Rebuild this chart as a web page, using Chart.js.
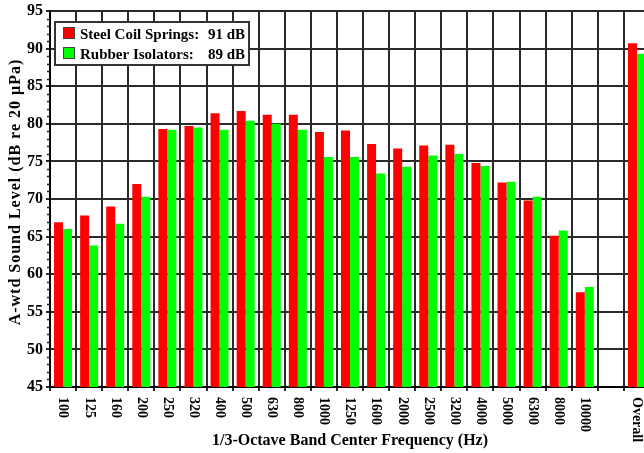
<!DOCTYPE html>
<html>
<head>
<meta charset="utf-8">
<script src="https://cdn.jsdelivr.net/npm/chart.js@4.4.1/dist/chart.umd.min.js"></script>
<style>
  html, body { margin: 0; padding: 0; background: #fff; overflow: hidden; }
  #wrap { width: 650px; height: 453px; }
</style>
</head>
<body>
<div id="wrap"><canvas id="noise" width="650" height="453"></canvas></div>
<script>
// 1/3 octave bands (blank slot before the overall level)
const bands = ['100', '125', '160', '200', '250', '320', '400', '500', '630', '800', '1000',
  '1250', '1600', '2000', '2500', '3200', '4000', '5000', '6300', '8000', '10000', '', 'Overall'];
const steelCoil = [66.9, 67.8, 69.0, 72.0, 79.3, 79.7, 81.4, 81.7, 81.2, 81.2, 78.9,
  79.1, 77.3, 76.7, 77.1, 77.2, 74.8, 72.2, 69.8, 65.1, 57.6, null, 90.7];
const rubber = [66.0, 63.8, 66.7, 70.3, 79.2, 79.5, 79.2, 80.4, 80.0, 79.2, 75.6,
  75.6, 73.4, 74.3, 75.8, 76.0, 74.4, 72.3, 70.3, 65.8, 58.3, null, 89.3];
const seriesNames = ['Steel Coil Springs:', 'Rubber Isolators:'];
const seriesTotals = ['91 dB', '89 dB'];
const seriesColors = ['#ff0000', '#00ff00'];
const yTicks = [45, 50, 55, 60, 65, 70, 75, 80, 85, 90, 95];

const serif = '"Liberation Serif", "DejaVu Serif", serif';

// rotated band labels, axis titles, minor ticks and the legend box
const extras = {
  id: 'extras',
  afterDraw(chart) {
    const ctx = chart.ctx;
    const x = chart.scales.x, y = chart.scales.y;
    const area = chart.chartArea;
    ctx.save();

    // minor ticks on the y axis
    ctx.strokeStyle = '#222';
    ctx.lineWidth = 1.5;
    for (let v = yTicks[0]; v <= yTicks[yTicks.length - 1]; v++) {
      if (v % 5 === 0) continue;
      const py = Math.round(y.getPixelForValue(v)) + 0.5;
      ctx.beginPath();
      ctx.moveTo(area.left - 3, py);
      ctx.lineTo(area.left, py);
      ctx.stroke();
    }

    // band labels, turned clockwise
    ctx.fillStyle = '#000';
    ctx.font = 'bold 14px ' + serif;
    ctx.textAlign = 'left';
    ctx.textBaseline = 'middle';
    bands.forEach((b, i) => {
      if (!b) return;
      ctx.save();
      ctx.translate(x.getPixelForValue(i), area.bottom + 10);
      ctx.rotate(Math.PI / 2);
      ctx.fillText(b, 0, 0);
      ctx.restore();
    });

    // x axis title
    ctx.font = 'bold 16px ' + serif;
    ctx.textAlign = 'center';
    ctx.textBaseline = 'alphabetic';
    ctx.fillText('1/3-Octave Band Center Frequency (Hz)', (area.left + area.right) / 2, 445);

    // y axis title, a little spaced out
    ctx.save();
    ctx.translate(20, 192);
    ctx.rotate(-Math.PI / 2);
    ctx.letterSpacing = '1px';
    ctx.fillText('A-wtd Sound Level (dB re 20 µPa)', 0, 0);
    ctx.restore();

    // legend
    const lx = 55, ly = 22, lw = 194, lh = 43;
    ctx.fillStyle = '#fff';
    ctx.fillRect(lx, ly, lw, lh);
    ctx.strokeStyle = '#333';
    ctx.lineWidth = 2;
    ctx.strokeRect(lx, ly, lw, lh);
    ctx.font = 'bold 15px ' + serif;
    seriesNames.forEach((name, i) => {
      const top = ly + 5 + i * 20;
      ctx.fillStyle = seriesColors[i];
      ctx.fillRect(lx + 8, top, 12, 12);
      ctx.strokeStyle = '#444';
      ctx.lineWidth = 1;
      ctx.strokeRect(lx + 8.5, top + 0.5, 11, 11);
      ctx.fillStyle = '#000';
      ctx.textAlign = 'left';
      ctx.fillText(name, lx + 25, top + 12);
      ctx.textAlign = 'right';
      ctx.fillText(seriesTotals[i], lx + lw - 4, top + 12);
    });
    ctx.restore();
  }
};

new Chart(document.getElementById('noise'), {
  type: 'bar',
  data: {
    labels: bands,
    datasets: [
      { label: seriesNames[0], data: steelCoil, backgroundColor: seriesColors[0] },
      { label: seriesNames[1], data: rubber, backgroundColor: seriesColors[1] }
    ]
  },
  options: {
    responsive: false,
    animation: false,
    devicePixelRatio: 1,
    categoryPercentage: 0.69,
    barPercentage: 1.0,
    layout: { padding: { top: 6, right: 0, bottom: 62, left: 0 } },
    plugins: { legend: { display: false }, tooltip: { enabled: false } },
    scales: {
      x: {
        ticks: { display: false },
        grid: { color: '#2a2a2a', lineWidth: 2, tickLength: 4, offset: true },
        border: { color: '#000', width: 2 }
      },
      y: {
        min: 45,
        max: 95,
        afterBuildTicks: (s) => { s.ticks = yTicks.map(v => ({ value: v })); },
        afterFit: (s) => { s.width = 50; },
        ticks: {
          color: '#000',
          padding: 3,
          font: { family: serif, size: 16, weight: 'bold', lineHeight: 1 }
        },
        grid: { color: '#2a2a2a', lineWidth: 2, tickLength: 4 },
        border: { color: '#000', width: 2 }
      }
    }
  },
  plugins: [extras]
});
</script>
</body>
</html>
